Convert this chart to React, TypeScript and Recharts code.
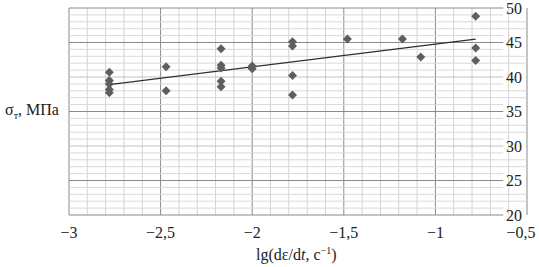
import { ScatterChart, Scatter, XAxis, YAxis, ReferenceLine } from "recharts"

// lg of strain rate for each test group
const lgRates = [-2.78, -2.47, -2.17, -2.0, -1.78, -1.48, -1.18, -1.08, -0.78]
// yield stress (MPa) measured at each rate
const stressByRate = [
    [40.7, 39.5, 39.0, 38.2, 37.7],
    [41.5, 38.0],
    [44.1, 41.7, 41.3, 39.4, 38.6],
    [41.6, 41.2],
    [45.1, 44.5, 40.2, 37.4],
    [45.5],
    [45.5],
    [42.9],
    [48.8, 44.2, 42.4],
]
const trendX = [-2.78, -0.78]
const trendY = [38.9, 45.5]

const xTicks = [-3, -2.5, -2, -1.5, -1, -0.5]
const yTicks = [20, 25, 30, 35, 40, 45, 50]
const yDark = [20, 25, 35, 45, 50]

const xGrid = Array.from({ length: 26 }, (_, i) => Math.round((-3 + i * 0.1) * 10) / 10)
const yGrid = Array.from({ length: 31 }, (_, i) => 20 + i)
// horizontal grid lines stop short where a right-hand tick label sits
const labelGap = -0.63

const points = lgRates.flatMap((x, i) => stressByRate[i].map((y) => ({ x, y })))
const trend = trendX.map((x, i) => ({ x, y: trendY[i] }))

const SERIF = "'Liberation Serif', 'DejaVu Serif', 'Times New Roman', serif"

const fmt = (v: number) => String(v).replace("-", "\u2212").replace(".", ",")

const nearLabel = (v: number) => {
    const d = Math.abs(v - Math.round(v / 5) * 5)
    return d <= 1
}

const Diamond = (props: any) => {
    const { cx, cy } = props
    const r = 4.5
    return <polygon points={`${cx},${cy - r} ${cx + r},${cy} ${cx},${cy + r} ${cx - r},${cy}`} fill="#5e5e5e" />
}

const YTick = (props: any) => {
    const { x, y, payload } = props
    return (
        <text x={x} y={y} dy="0.35em" textAnchor="end" style={{ fontSize: 16, fontFamily: SERIF }} fill="#222">
            {payload.value}
        </text>
    )
}

const XTick = (props: any) => {
    const { x, y, payload } = props
    const last = payload.value === -0.5
    return (
        <text x={last ? x - 6 : x} y={y} dy="0.71em" textAnchor="middle" style={{ fontSize: 16, fontFamily: SERIF }} fill="#222">
            {fmt(payload.value)}
        </text>
    )
}

export default function App() {
    return (
        <div style={{ position: "absolute", left: 0, top: 0, width: 539, height: 267, background: "#fff", fontFamily: SERIF }}>
            <ScatterChart width={539} height={267} margin={{ top: 8, right: 12, left: 69, bottom: 22 }}>
                <XAxis
                    type="number"
                    dataKey="x"
                    domain={[-3, -0.5]}
                    ticks={xTicks}
                    interval={0}
                    axisLine={false}
                    tickLine={false}
                    tickMargin={6}
                    height={30}
                    tick={<XTick />}
                    allowDataOverflow
                />
                <YAxis
                    type="number"
                    dataKey="y"
                    domain={[20, 50]}
                    ticks={yTicks}
                    interval={0}
                    orientation="right"
                    mirror
                    axisLine={false}
                    tickLine={false}
                    tickSize={0}
                    tickMargin={5}
                    tick={<YTick />}
                    allowDataOverflow
                />
                {xGrid.map((v) => (
                    <ReferenceLine key={"vx" + v} x={v} stroke={Math.abs(v * 2 - Math.round(v * 2)) < 1e-6 ? "#8a8a8a" : "#d2d2d2"} strokeWidth={1} />
                ))}
                {yGrid.map((v) => (
                    <ReferenceLine
                        key={"hy" + v}
                        segment={[
                            { x: -3, y: v },
                            { x: nearLabel(v) ? labelGap : -0.5, y: v },
                        ]}
                        stroke={yDark.includes(v) ? "#8a8a8a" : v % 5 === 0 ? "#c2c2c2" : "#d9d9d9"}
                        strokeWidth={1}
                    />
                ))}
                <Scatter data={trend} line={{ stroke: "#2e2e2e", strokeWidth: 1.3 }} shape={() => <g />} isAnimationActive={false} />
                <Scatter data={points} shape={<Diamond />} isAnimationActive={false} />
            </ScatterChart>
            <div style={{ position: "absolute", left: 5, top: 101, fontSize: 16, color: "#222", whiteSpace: "nowrap" }}>
                σ<sub style={{ fontSize: 10 }}>т</sub>, МПа
            </div>
            <div style={{ position: "absolute", left: 256, top: 245, fontSize: 16, color: "#222", whiteSpace: "nowrap" }}>
                lg(dε/d<i>t</i>, с<sup style={{ fontSize: 10 }}>−1</sup>)
            </div>
        </div>
    )
}
